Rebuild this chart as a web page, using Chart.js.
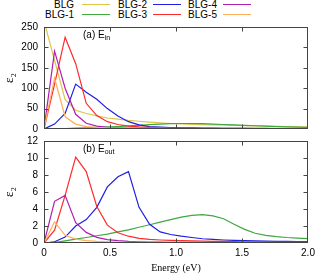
<!DOCTYPE html>
<html>
<head>
<meta charset="utf-8">
<script src="https://cdn.jsdelivr.net/npm/chart.js@4.4.1/dist/chart.umd.min.js"></script>
<style>
  body { margin: 0; background: #fff; }
  #wrap { position: relative; width: 332px; height: 275px; overflow: hidden; font-family: "Liberation Sans", Arial, sans-serif; }
  canvas { position: absolute; left: 0; }
  .lg-text { position: absolute; font-size: 10px; line-height: 10px; text-align: right; width: 40px; color: #000; }
  .lg-line { position: absolute; height: 0; border-top: 1.5px solid; width: 28px; }
</style>
</head>
<body>
<div id="wrap">
  <div id="legend"></div>
  <canvas id="chartIn" width="332" height="114" style="top:20px"></canvas>
  <canvas id="chartOut" width="332" height="141" style="top:134px"></canvas>
</div>
<script>
// photon energy grid (eV)
const energy = [0, 0.08, 0.16, 0.24, 0.32, 0.40, 0.48, 0.56, 0.64, 0.72, 0.80, 0.88, 0.96,
                1.04, 1.12, 1.20, 1.28, 1.36, 1.44, 1.52, 1.60, 1.68, 1.76, 1.84, 1.92, 2.00];

const labels = ['BLG', 'BLG-1', 'BLG-2', 'BLG-3', 'BLG-4', 'BLG-5'];
const colors = ['#dcc54a', '#3fa83f', '#1f1fe6', '#ff2a2a', '#b01fb0', '#ffae5a'];

// (a) in-plane field
const inBLG  = [265, 168, 72, 46, 38, 32, 27, 24, 21, 19, 17, 15, 13.5, 12.5, 11.5, 10.5, 10, 9.5, 9, 8.5, 7.5, 7, 6.5, 6, 5, 4.5];
const inBLG1 = [0, 0.3, 1, 2, 3, 4, 5, 6, 7.5, 9, 10.5, 12, 13, 13.5, 13.5, 13, 12, 11, 10, 9, 8, 7, 6, 5, 4.5, 4];
const inBLG2 = [0, 12, 38, 110, 90, 73, 50, 32, 18, 10, 6, 4.5, 3.5, 3, 2.6, 2.3, 2, 1.8, 1.6, 1.5, 1.4, 1.3, 1.2, 1.1, 1, 1];
const inBLG3 = [0, 110, 225, 160, 63, 33, 18, 11, 7, 5, 4, 3.2, 2.7, 2.3, 2, 1.8, 1.6, 1.5, 1.4, 1.3, 1.2, 1.1, 1, 1, 0.9, 0.9];
const inBLG4 = [0, 191, 100, 36, 14, 7, 4, 3, 2.5, 2, 1.7, 1.5, 1.3, 1.2, 1.1, 1, 0.9, 0.8, 0.8, 0.7, 0.7, 0.6, 0.6, 0.5, 0.5, 0.5];
const inBLG5 = [0, 125, 30, 12, 6, 4, 3, 2.5, 2, 1.7, 1.5, 1.3, 1.2, 1.1, 1, 0.9, 0.8, 0.8, 0.7, 0.7, 0.6, 0.6, 0.5, 0.5, 0.5, 0.5];

// (b) out-of-plane field
const outBLG  = [0, 0.1, 0.08, 0.06, 0.05, 0.05, 0.05, 0.04, 0.04, 0.04, 0.04, 0.03, 0.03, 0.03, 0.03, 0.03, 0.03, 0.03, 0.03, 0.03, 0.02, 0.02, 0.02, 0.02, 0.02, 0.02];
const outBLG1 = [0, 0.05, 0.25, 0.45, 0.65, 0.85, 1.05, 1.3, 1.55, 1.85, 2.15, 2.45, 2.75, 3.05, 3.25, 3.33, 3.2, 2.85, 2.2, 1.6, 1.15, 0.9, 0.75, 0.65, 0.58, 0.52];
const outBLG2 = [0, 0.15, 0.7, 2.0, 2.75, 4.2, 6.6, 7.8, 8.4, 4.2, 2.2, 1.3, 1.0, 0.8, 0.65, 0.5, 0.42, 0.35, 0.3, 0.27, 0.24, 0.22, 0.2, 0.18, 0.17, 0.16];
const outBLG3 = [0, 1.5, 5.6, 10.1, 8.4, 4.3, 2.1, 1.2, 0.8, 0.55, 0.42, 0.35, 0.3, 0.27, 0.24, 0.22, 0.2, 0.18, 0.16, 0.15, 0.14, 0.13, 0.12, 0.11, 0.1, 0.1];
const outBLG4 = [0, 4.9, 5.6, 2.4, 1.25, 0.67, 0.4, 0.28, 0.2, 0.15, 0.12, 0.1, 0.09, 0.08, 0.07, 0.06, 0.06, 0.05, 0.05, 0.05, 0.04, 0.04, 0.04, 0.04, 0.03, 0.03];
const outBLG5 = [0, 2.5, 0.9, 0.45, 0.27, 0.18, 0.13, 0.1, 0.08, 0.07, 0.06, 0.05, 0.05, 0.04, 0.04, 0.04, 0.03, 0.03, 0.03, 0.03, 0.03, 0.03, 0.03, 0.03, 0.03, 0.03];

const xTicks = [0, 0.5, 1, 1.5, 2];

const FONT = '"Liberation Sans", Arial, sans-serif';

// gnuplot-ish frame with inward ticks, plus the panel tag
const framePlugin = {
    id: 'frame',
    afterDraw(chart) {
        const { ctx, chartArea: a, scales } = chart;
        const L = Math.round(a.left) + 0.5, R = Math.round(a.right) - 0.5;
        const T = Math.round(a.top) + 0.5, B = Math.round(a.bottom) - 0.5;
        ctx.save();
        ctx.strokeStyle = '#444';
        ctx.lineWidth = 1;
        ctx.strokeRect(L, T, R - L, B - T);
        ctx.beginPath();
        scales.x.ticks.forEach(t => {
            const px = Math.round(scales.x.getPixelForValue(t.value)) + 0.5;
            if (px <= L + 1 || px >= R - 1) return;
            ctx.moveTo(px, B); ctx.lineTo(px, B - 4);
            ctx.moveTo(px, T); ctx.lineTo(px, T + 4);
        });
        scales.y.ticks.forEach(t => {
            const py = Math.round(scales.y.getPixelForValue(t.value)) + 0.5;
            if (py <= T + 1 || py >= B - 1) return;
            ctx.moveTo(L, py); ctx.lineTo(L + 4, py);
            ctx.moveTo(R, py); ctx.lineTo(R - 4, py);
        });
        ctx.stroke();

        const tag = chart.options.plugins.frame;
        ctx.fillStyle = '#000';
        ctx.textBaseline = 'middle';
        ctx.font = '10px ' + FONT;
        const ty = a.top + 8;
        ctx.fillText(tag.main, 83, ty);
        const w = ctx.measureText(tag.main).width;
        ctx.font = '7px ' + FONT;
        ctx.fillText(tag.sub, 83 + w, ty + 3);
        ctx.restore();
    }
};

function noOverhang(s) {
    s.paddingTop = 0; s.paddingBottom = 0;
    s.paddingLeft = 0; s.paddingRight = 0;
}

function makeChart(id, series, yMax, yStep, bottom, tag) {
    const datasets = series.map((vals, i) => ({
        label: labels[i],
        data: vals.map((v, k) => ({ x: energy[k], y: v })),
        borderColor: colors[i],
        borderWidth: 1.2,
        pointRadius: 0,
        tension: 0,
        fill: false,
        clip: 0,
        order: series.length - i
    }));

    return new Chart(document.getElementById(id), {
        type: 'line',
        data: { datasets },
        options: {
            responsive: false,
            devicePixelRatio: 1,
            animation: false,
            layout: { padding: { top: 7, right: 24, left: 0, bottom: 0 } },
            plugins: { legend: { display: false }, tooltip: { enabled: false }, frame: tag },
            scales: {
                x: {
                    type: 'linear', min: 0, max: 2,
                    afterBuildTicks: s => { s.ticks = xTicks.map(v => ({ value: v })); },
                    afterFit: s => { s.height = bottom ? 32 : 5; noOverhang(s); },
                    grid: { display: false, drawTicks: false },
                    border: { display: false },
                    ticks: { display: bottom, padding: 4, color: '#000', font: { size: 10, family: FONT } },
                    title: {
                        display: bottom, text: 'Energy (eV)', color: '#000',
                        font: { size: 10, family: '"Liberation Serif", "Times New Roman", serif' },
                        padding: { top: 0, bottom: 1 }
                    }
                },
                y: {
                    min: 0, max: yMax,
                    afterFit: s => { s.width = 44; noOverhang(s); },
                    grid: { display: false, drawTicks: false },
                    border: { display: false },
                    ticks: { stepSize: yStep, padding: 6, color: '#000', font: { size: 10, family: FONT } },
                    title: {
                        display: true, text: 'ε₂', color: '#000',
                        font: { size: 13, family: '"Liberation Serif", serif' },
                        padding: { top: 2, bottom: 0 }
                    }
                }
            }
        },
        plugins: [framePlugin]
    });
}

// legend: three columns, label left of the line sample
function buildLegend() {
    const box = document.getElementById('legend');
    const textRight = [74, 147, 217];
    const lineLeft = [82, 153, 223];
    const rowY = [5, 15];
    labels.forEach((name, i) => {
        const col = Math.floor(i / 2), row = i % 2;
        const t = document.createElement('div');
        t.className = 'lg-text';
        t.textContent = name;
        t.style.left = (textRight[col] - 40) + 'px';
        t.style.top = (rowY[row] - 5) + 'px';
        box.appendChild(t);
        const l = document.createElement('div');
        l.className = 'lg-line';
        l.style.left = lineLeft[col] + 'px';
        l.style.top = (rowY[row] - 1) + 'px';
        l.style.borderColor = colors[i];
        box.appendChild(l);
    });
}

buildLegend();
makeChart('chartIn', [inBLG, inBLG1, inBLG2, inBLG3, inBLG4, inBLG5], 250, 50, false, { main: '(a) E', sub: 'in' });
makeChart('chartOut', [outBLG, outBLG1, outBLG2, outBLG3, outBLG4, outBLG5], 12, 2, true, { main: '(b) E', sub: 'out' });
</script>
</body>
</html>
